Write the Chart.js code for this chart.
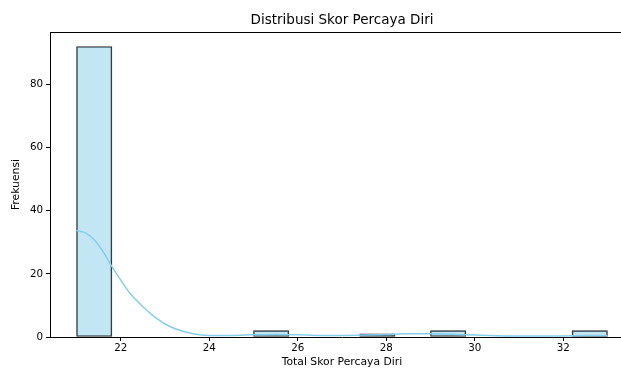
<!DOCTYPE html>
<html>
<head>
<meta charset="utf-8">
<script src="https://cdn.jsdelivr.net/npm/chart.js@4.4.1/dist/chart.umd.min.js"></script>
<style>
  html,body{margin:0;padding:0;background:#fff;}
  #wrap{width:621px;height:369px;overflow:hidden;}
</style>
</head>
<body>
<div id="wrap"><canvas id="histC" width="634" height="369"></canvas></div>
<script>
// histogram bins (centre of each bin, 15 bins of width 0.8 from 21 to 33)
const binCenters=[21.4,22.2,23.0,23.8,24.6,25.4,26.2,27.0,27.8,28.6,29.4,30.2,31.0,31.8,32.6];
const binCounts=[92,0,0,0,0,2,0,0,1,0,2,0,0,0,2];
// kde curve
const kdeX=[21.0,21.2,21.4,21.6,21.8,22.0,22.2,22.5,22.8,23.1,23.4,23.7,24.0,24.5,25.0,25.5,26.0,26.5,27.0,27.5,28.0,28.5,29.0,29.5,30.0,30.5,31.0,31.5,32.0,32.5,33.0];
const kdeY=[33.7,33.0,30.8,27.0,22.3,18.0,14.0,9.6,6.0,3.4,1.8,0.9,0.5,0.5,0.7,0.8,0.7,0.5,0.5,0.6,0.8,1.0,1.0,0.9,0.6,0.4,0.3,0.3,0.35,0.45,0.5];
const xTicks=[22,24,26,28,30,32];
const yTicks=[0,20,40,60,80];

const tickFont={family:"'DejaVu Sans'",size:10.3};
const labelFont={family:"'DejaVu Sans'",size:10.8};

const topLine={
    id:"topLine",
    afterDraw(chart){
        const a=chart.chartArea, c=chart.ctx;
        c.save();
        c.strokeStyle="#000";
        c.lineWidth=1;
        c.beginPath();
        c.moveTo(a.left,a.top+0.5);
        c.lineTo(a.right,a.top+0.5);
        c.stroke();
        c.restore();
    }
};

var ctx=document.getElementById("histC");
var histChart=new Chart(ctx,{
    type:"bar",
    data:{
        datasets:[
            {
                type:"line",
                label:"kde",
                data:kdeX.map((x,i)=>({x:x,y:kdeY[i]})),
                borderColor:"rgb(135,206,235)",
                borderWidth:1.5,
                pointRadius:0,
                cubicInterpolationMode:"monotone",
                fill:false,
                order:0
            },
            {
                type:"bar",
                label:"count",
                data:binCenters.map((x,i)=>({x:x,y:binCounts[i]})),
                backgroundColor:"rgba(135,206,235,0.5)",
                borderColor:"rgba(0,0,0,0.85)",
                borderWidth:1,
                borderSkipped:false,
                barPercentage:1,
                categoryPercentage:1,
                grouped:false,
                order:1
            }
        ]
    },
    options:{
        responsive:false,
        animation:false,
        layout:{padding:0},
        plugins:{
            legend:{display:false},
            tooltip:{enabled:false},
            title:{
                display:true,
                fullSize:false,
                text:"Distribusi Skor Percaya Diri",
                color:"#000",
                font:{family:"'DejaVu Sans'",size:13.5,weight:"normal"},
                padding:{top:12,bottom:3.8}
            }
        },
        scales:{
            x:{
                type:"linear",
                offset:false,
                min:20.4,
                max:33.6,
                afterBuildTicks:(s)=>{s.ticks=xTicks.map(v=>({value:v}));},
                afterFit:(s)=>{s.height=32;},
                ticks:{color:"#000",font:tickFont,padding:1,maxRotation:0,callback:(v)=>String(v)},
                grid:{display:true,offset:false,drawOnChartArea:false,tickLength:4,color:"#000"},
                border:{display:true,color:"#000",width:1},
                title:{display:true,text:"Total Skor Percaya Diri",color:"#000",font:labelFont,padding:{top:0,bottom:0}}
            },
            y:{
                type:"linear",
                min:0,
                max:96.6,
                afterBuildTicks:(s)=>{s.ticks=yTicks.map(v=>({value:v}));},
                afterFit:(s)=>{s.width=50;},
                ticks:{color:"#000",font:tickFont,padding:3},
                grid:{display:true,drawOnChartArea:false,tickLength:4,color:"#000"},
                border:{display:true,color:"#000",width:1},
                title:{display:true,text:"Frekuensi",color:"#000",font:labelFont,padding:{top:10,bottom:4}}
            }
        }
    },
    plugins:[topLine]
});
</script>
</body>
</html>
